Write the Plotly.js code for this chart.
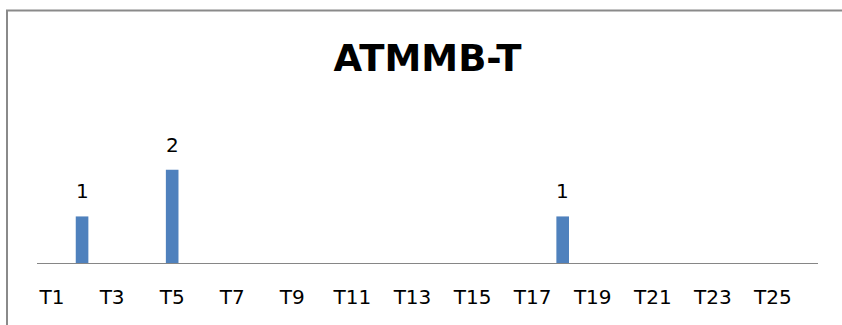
<!DOCTYPE html>
<html>
<head>
<meta charset="utf-8">
<script src="https://cdn.plot.ly/plotly-3.0.1.min.js"></script>
<style>
  html, body { margin: 0; padding: 0; background: #ffffff; overflow: hidden; }
  #chart { width: 842px; height: 325px; }
</style>
</head>
<body>
<div id="chart"></div>
<script>
// Data
const categories = ["T1","T2","T3","T4","T5","T6","T7","T8","T9","T10","T11","T12","T13",
                    "T14","T15","T16","T17","T18","T19","T20","T21","T22","T23","T24","T25","T26"];
const values = [0,1,0,0,2,0,0,0,0,0,0,0,0,0,0,0,0,1,0,0,0,0,0,0,0,0];
const tickLabels = ["T1","T3","T5","T7","T9","T11","T13","T15","T17","T19","T21","T23","T25"];
const chartTitle = "ATMMB-T";

const FONT = "DejaVu Sans, Open Sans, sans-serif";

const trace = {
  type: "bar",
  x: categories,
  y: values,
  width: 0.42,
  marker: { color: "#4F81BD", line: { width: 0 } },
  hoverinfo: "x+y"
};

const annotations = [];
categories.forEach((c, i) => {
  if (values[i] > 0) {
    annotations.push({
      x: c, y: values[i], xref: "x", yref: "y",
      text: String(values[i]), showarrow: false,
      yanchor: "middle", yshift: 25,
      font: { family: FONT, size: 20, color: "#000000" }
    });
  }
});

const layout = {
  width: 842, height: 325, autosize: false,
  margin: { l: 37, r: 24, t: 100, b: 62, pad: 0 },
  paper_bgcolor: "#ffffff", plot_bgcolor: "#ffffff",
  showlegend: false,
  title: {
    text: "<b>" + chartTitle + "</b>",
    x: 0.5, xref: "paper", xanchor: "center",
    y: 1 - 58/325, yref: "container", yanchor: "middle",
    font: { family: FONT, size: 37, color: "#000000" }
  },
  xaxis: {
    type: "category",
    categoryorder: "array", categoryarray: categories,
    tickmode: "array", tickvals: tickLabels, ticktext: tickLabels,
    showline: true, linecolor: "#868686", linewidth: 1,
    showgrid: false, zeroline: false, ticks: "",
    ticklabelstandoff: 16,
    tickfont: { family: FONT, size: 20, color: "#000000" },
    fixedrange: true
  },
  yaxis: {
    range: [0, 3.5],
    showline: false, showgrid: false, zeroline: false,
    showticklabels: false, ticks: "",
    fixedrange: true
  },
  annotations: annotations,
  shapes: [{
    type: "rect", xref: "paper", yref: "paper",
    x0: (7 - 37) / 781, x1: 2,
    y0: -2, y1: (263 - 10.5) / 163,
    line: { color: "#8a8a8a", width: 2 },
    fillcolor: "rgba(0,0,0,0)", layer: "above"
  }]
};

Plotly.newPlot("chart", [trace], layout, { displayModeBar: false, staticPlot: true });
</script>
</body>
</html>
